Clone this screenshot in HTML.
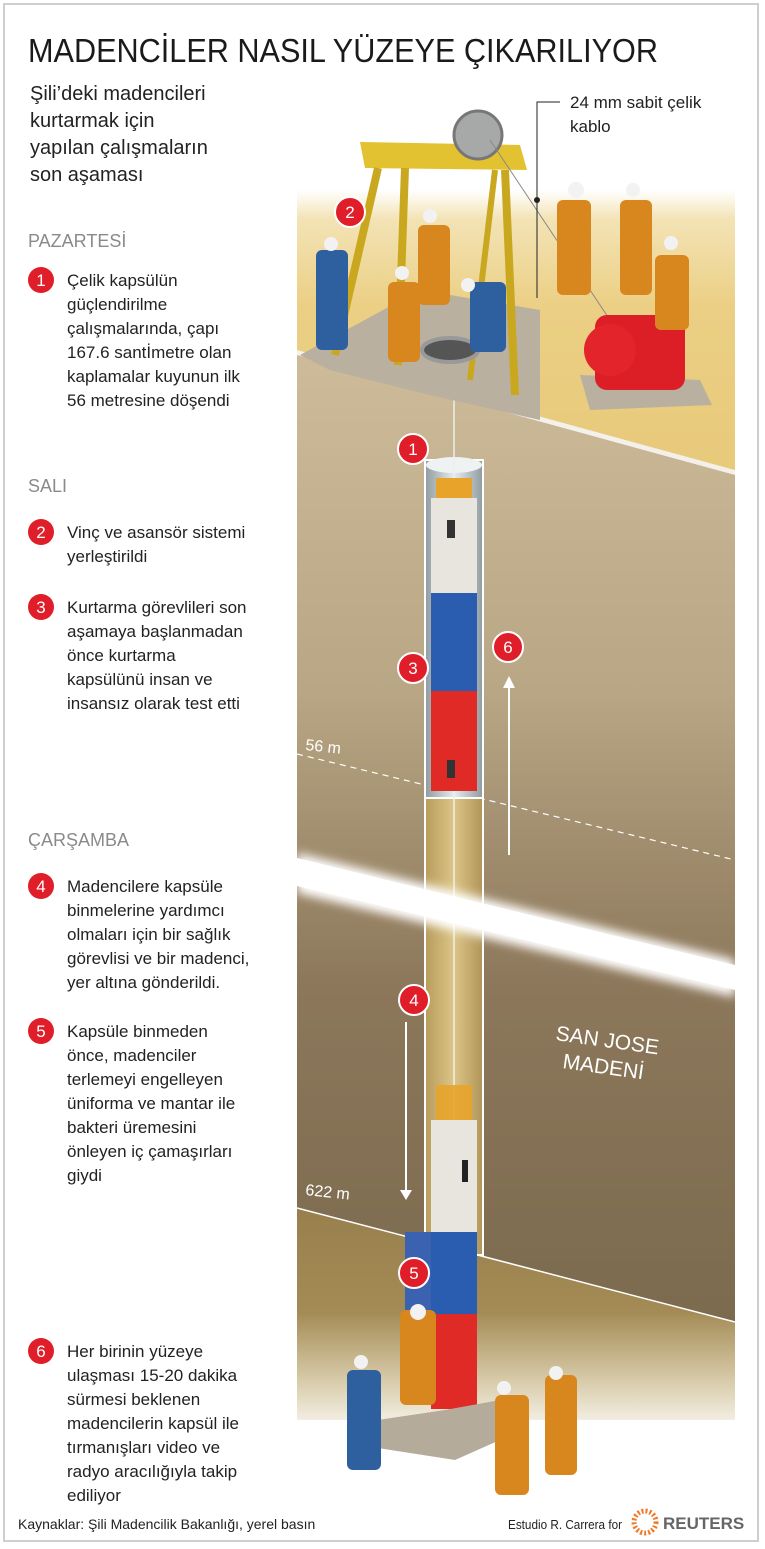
<!DOCTYPE html>
<html><head><meta charset="utf-8"><style>
body{margin:0;background:#fff;}
svg{display:block}
text{font-family:"Liberation Sans",sans-serif}
</style></head><body>
<svg width="765" height="1549" viewBox="0 0 765 1549" xmlns="http://www.w3.org/2000/svg">
<defs>
<linearGradient id="sand" x1="0" y1="0" x2="0" y2="1">
<stop offset="0" stop-color="#ffffff"/><stop offset="0.1" stop-color="#f3e3b5"/><stop offset="0.4" stop-color="#ebcf84"/><stop offset="1" stop-color="#e8c97a"/></linearGradient>
<linearGradient id="earth" x1="0" y1="0" x2="0" y2="1">
<stop offset="0" stop-color="#cdbb99"/><stop offset="0.35" stop-color="#b8a684"/><stop offset="0.65" stop-color="#8c775a"/><stop offset="1" stop-color="#7b6a4e"/></linearGradient>
<linearGradient id="cave" x1="0" y1="0" x2="0" y2="1">
<stop offset="0" stop-color="#98804e"/><stop offset="0.45" stop-color="#a48b55"/><stop offset="0.75" stop-color="#d9ccab"/><stop offset="1" stop-color="#ffffff"/></linearGradient>
<linearGradient id="steel" x1="0" y1="0" x2="1" y2="0">
<stop offset="0" stop-color="#8f9ba0"/><stop offset="0.5" stop-color="#e6ecee"/><stop offset="1" stop-color="#8f9ba0"/></linearGradient>
<linearGradient id="tube" x1="0" y1="0" x2="1" y2="0">
<stop offset="0" stop-color="#b89c5c"/><stop offset="0.5" stop-color="#dcc587"/><stop offset="1" stop-color="#b09458"/></linearGradient>
<filter id="blur" x="-10%" y="-50%" width="120%" height="200%"><feGaussianBlur stdDeviation="5"/></filter>
<clipPath id="panel"><rect x="297" y="0" width="438" height="1549"/></clipPath>
</defs>
<rect x="0" y="0" width="765" height="1549" fill="#fff"/>

<!-- sand -->
<rect x="297" y="190" width="438" height="290" fill="url(#sand)"/>
<polygon points="297,350 735,470 735,1330 297,1330" fill="url(#earth)"/>
<polygon points="297,350 735,470 735,475 297,355" fill="#fff" opacity="0.8"/>
<!-- dashed 56 m -->
<line x1="297" y1="754" x2="735" y2="860" stroke="#fff" stroke-width="1.2" stroke-dasharray="6,5"/>
<!-- cave -->
<polygon points="297,1208 735,1322 735,1440 297,1440" fill="url(#cave)"/>
<line x1="297" y1="1208" x2="735" y2="1322" stroke="#fff" stroke-width="1.5"/>
<rect x="297" y="1420" width="438" height="30" fill="#fff"/>

<!-- shaft -->
<rect x="425" y="795" width="58" height="460" fill="url(#tube)" stroke="#fff" stroke-width="2"/>
<rect x="425" y="460" width="58" height="338" fill="url(#steel)" stroke="#fff" stroke-width="2"/>
<ellipse cx="454" cy="465" rx="28" ry="8" fill="#eef2f3"/>
<line x1="454" y1="300" x2="454" y2="1120" stroke="#eee" stroke-width="1.5"/>
<!-- white band -->
<g clip-path="url(#panel)">
<polygon points="297,853 735,960 735,997 297,893" fill="#fff" filter="url(#blur)"/>
<polygon points="297,858 735,965 735,990 297,886" fill="#fff"/>
</g>
<!-- upper capsule -->
<rect x="436" y="478" width="36" height="20" fill="#e8a42a"/>
<rect x="431" y="498" width="46" height="95" fill="#e8e4de"/>
<rect x="431" y="593" width="46" height="98" fill="#2a5db0"/>
<rect x="431" y="691" width="46" height="100" fill="#e02a26"/>
<rect x="447" y="520" width="8" height="18" fill="#333"/><rect x="447" y="760" width="8" height="18" fill="#333"/>
<!-- lower capsule -->
<rect x="436" y="1085" width="36" height="35" fill="#e8a42a" opacity="0.9"/>
<rect x="431" y="1120" width="46" height="112" fill="#e8e4de"/>
<rect x="431" y="1232" width="46" height="82" fill="#2a5db0"/>
<rect x="431" y="1314" width="46" height="95" fill="#e02a26"/>
<rect x="405" y="1232" width="26" height="90" fill="#3a62b0"/>
<rect x="462" y="1160" width="6" height="22" fill="#222"/>
<polygon points="378,1420 445,1410 500,1400 500,1440 455,1460 378,1448" fill="#b5ab9b"/>
<!-- arrows -->
<line x1="509" y1="855" x2="509" y2="685" stroke="#fff" stroke-width="2"/><polygon points="503,688 515,688 509,676" fill="#fff"/>
<line x1="406" y1="1022" x2="406" y2="1192" stroke="#fff" stroke-width="2"/><polygon points="400,1190 412,1190 406,1200" fill="#fff"/>

<!-- surface structure -->
<polygon points="300,355 420,290 540,310 540,420 430,395 330,370" fill="#b9b0a0"/>
<polygon points="360,142 520,145 527,170 365,168" fill="#e2c230"/>
<line x1="378" y1="168" x2="335" y2="355" stroke="#c9a820" stroke-width="8"/>
<line x1="405" y1="168" x2="398" y2="365" stroke="#c9a820" stroke-width="8"/>
<line x1="505" y1="170" x2="515" y2="395" stroke="#c9a820" stroke-width="8"/>
<line x1="495" y1="170" x2="470" y2="380" stroke="#c9a820" stroke-width="6"/>
<circle cx="478" cy="135" r="24" fill="#a7a8a8" stroke="#777" stroke-width="3"/>
<line x1="490" y1="140" x2="610" y2="320" stroke="#888" stroke-width="1"/>
<ellipse cx="450" cy="350" rx="28" ry="12" fill="#555" stroke="#999" stroke-width="4"/>
<polygon points="580,375 700,380 712,405 590,410" fill="#b9b0a0"/>
<rect x="595" y="315" width="90" height="75" rx="12" fill="#dc1e26"/>
<circle cx="610" cy="350" r="26" fill="#e3242b"/>
<!-- workers (simplified) -->
<g fill="#d8861e">
<rect x="418" y="225" width="32" height="80" rx="6"/><rect x="388" y="282" width="32" height="80" rx="6"/>
<rect x="557" y="200" width="34" height="95" rx="6"/><rect x="620" y="200" width="32" height="95" rx="6"/><rect x="655" y="255" width="34" height="75" rx="6"/>
<rect x="400" y="1310" width="36" height="95" rx="6"/><rect x="495" y="1395" width="34" height="100" rx="6"/><rect x="545" y="1375" width="32" height="100" rx="6"/>
</g>
<g fill="#2e5f9e">
<rect x="316" y="250" width="32" height="100" rx="6"/><rect x="470" y="282" width="36" height="70" rx="6"/><rect x="347" y="1370" width="34" height="100" rx="6"/>
</g>
<g fill="#f2f2f2">
<circle cx="331" cy="244" r="7"/><circle cx="430" cy="216" r="7"/><circle cx="402" cy="273" r="7"/><circle cx="576" cy="190" r="8"/><circle cx="633" cy="190" r="7"/><circle cx="671" cy="243" r="7"/><circle cx="468" cy="285" r="7"/>
<circle cx="418" cy="1312" r="8"/><circle cx="361" cy="1362" r="7"/><circle cx="504" cy="1388" r="7"/><circle cx="556" cy="1373" r="7"/>
</g>

<!-- cable label -->
<polyline points="537,298 537,102 560,102" fill="none" stroke="#222" stroke-width="1"/>
<circle cx="537" cy="200" r="3" fill="#222"/>
<text x="570" y="108" font-size="17" fill="#222">24 mm sabit çelik</text>
<text x="570" y="132" font-size="17" fill="#222">kablo</text>

<!-- labels on diagram -->
<text x="305" y="750" font-size="16" fill="#fff" transform="rotate(6 305 750)">56 m</text>
<text x="305" y="1195" font-size="16" fill="#fff" transform="rotate(6 305 1195)">622 m</text>
<text x="555" y="1040" font-size="21" fill="#fff" transform="rotate(8 555 1040)">SAN JOSE</text>
<text x="562" y="1068" font-size="21" fill="#fff" transform="rotate(8 562 1068)">MADENİ</text>

<!-- diagram circles -->
<g font-size="17" fill="#fff" text-anchor="middle">
<circle cx="350" cy="212" r="15" fill="#e01e2a" stroke="#fff" stroke-width="2"/><text x="350" y="218">2</text>
<circle cx="413" cy="449" r="15" fill="#e01e2a" stroke="#fff" stroke-width="2"/><text x="413" y="455">1</text>
<circle cx="413" cy="668" r="15" fill="#e01e2a" stroke="#fff" stroke-width="2"/><text x="413" y="674">3</text>
<circle cx="508" cy="647" r="15" fill="#e01e2a" stroke="#fff" stroke-width="2"/><text x="508" y="653">6</text>
<circle cx="414" cy="1000" r="15" fill="#e01e2a" stroke="#fff" stroke-width="2"/><text x="414" y="1006">4</text>
<circle cx="414" cy="1273" r="15" fill="#e01e2a" stroke="#fff" stroke-width="2"/><text x="414" y="1279">5</text>
</g>

<!-- left text -->
<text x="28" y="62" font-size="33" fill="#1a1a1a" textLength="630" lengthAdjust="spacingAndGlyphs">MADENCİLER NASIL YÜZEYE ÇIKARILIYOR</text>
<g font-size="20" fill="#222">
<text x="30" y="100">Şili’deki madencileri</text>
<text x="30" y="127">kurtarmak için</text>
<text x="30" y="154">yapılan çalışmaların</text>
<text x="30" y="181">son aşaması</text>
</g>
<g font-size="18" fill="#8a8a8a">
<text x="28" y="247">PAZARTESİ</text>
<text x="28" y="492">SALI</text>
<text x="28" y="846">ÇARŞAMBA</text>
</g>
<g font-size="17" fill="#fff" text-anchor="middle">
<circle cx="41" cy="280" r="13" fill="#e01e2a"/><text x="41" y="286">1</text>
<circle cx="41" cy="532" r="13" fill="#e01e2a"/><text x="41" y="538">2</text>
<circle cx="41" cy="607" r="13" fill="#e01e2a"/><text x="41" y="613">3</text>
<circle cx="41" cy="886" r="13" fill="#e01e2a"/><text x="41" y="892">4</text>
<circle cx="41" cy="1031" r="13" fill="#e01e2a"/><text x="41" y="1037">5</text>
<circle cx="41" cy="1351" r="13" fill="#e01e2a"/><text x="41" y="1357">6</text>
</g>
<g font-size="17" fill="#222">
<text x="67" y="286">Çelik kapsülün</text>
<text x="67" y="310">güçlendirilme</text>
<text x="67" y="334">çalışmalarında, çapı</text>
<text x="67" y="358">167.6 santİmetre olan</text>
<text x="67" y="382">kaplamalar kuyunun ilk</text>
<text x="67" y="406">56 metresine döşendi</text>
<text x="67" y="538">Vinç ve asansör sistemi</text>
<text x="67" y="562">yerleştirildi</text>
<text x="67" y="613">Kurtarma görevlileri son</text>
<text x="67" y="637">aşamaya başlanmadan</text>
<text x="67" y="661">önce kurtarma</text>
<text x="67" y="685">kapsülünü insan ve</text>
<text x="67" y="709">insansız olarak test etti</text>
<text x="67" y="892">Madencilere kapsüle</text>
<text x="67" y="916">binmelerine yardımcı</text>
<text x="67" y="940">olmaları için bir sağlık</text>
<text x="67" y="964">görevlisi ve bir madenci,</text>
<text x="67" y="988">yer altına gönderildi.</text>
<text x="67" y="1037">Kapsüle binmeden</text>
<text x="67" y="1061">önce, madenciler</text>
<text x="67" y="1085">terlemeyi engelleyen</text>
<text x="67" y="1109">üniforma ve mantar ile</text>
<text x="67" y="1133">bakteri üremesini</text>
<text x="67" y="1157">önleyen iç çamaşırları</text>
<text x="67" y="1181">giydi</text>
<text x="67" y="1357">Her birinin yüzeye</text>
<text x="67" y="1381">ulaşması 15-20 dakika</text>
<text x="67" y="1405">sürmesi beklenen</text>
<text x="67" y="1429">madencilerin kapsül ile</text>
<text x="67" y="1453">tırmanışları video ve</text>
<text x="67" y="1477">radyo aracılığıyla takip</text>
<text x="67" y="1501">ediliyor</text>
</g>
<text x="18" y="1529" font-size="14" fill="#222">Kaynaklar: Şili Madencilik Bakanlığı, yerel basın</text>
<text x="508" y="1529" font-size="13" fill="#222" textLength="114" lengthAdjust="spacingAndGlyphs">Estudio R. Carrera for</text>
<circle cx="645" cy="1522" r="11" fill="none" stroke="#f07a2a" stroke-width="5" stroke-dasharray="2,2"/>
<text x="663" y="1529" font-size="17" font-weight="bold" fill="#666">REUTERS</text>
<rect x="4" y="4" width="754" height="1537" fill="none" stroke="#cfcfcf" stroke-width="2"/>
</svg>
</body></html>
